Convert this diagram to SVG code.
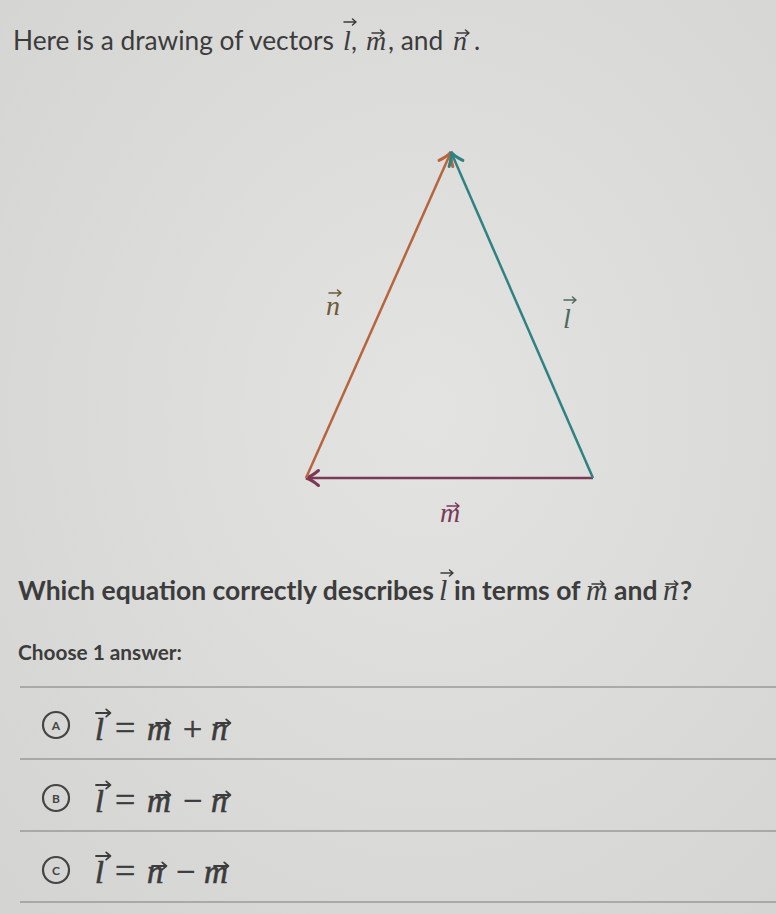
<svg xmlns="http://www.w3.org/2000/svg" xmlns:xlink="http://www.w3.org/1999/xlink" width="776" height="914" viewBox="0 0 776 914">
<defs>
<radialGradient id="bg" cx="0.55" cy="0.45" r="0.8">
<stop offset="0" stop-color="#e3e3e2"/>
<stop offset="1" stop-color="#d3d3d2"/>
</radialGradient>
<path id="vec" d="M0,0 H12 M8.5,-3 L12,0 L8.5,3" fill="none" stroke-width="1.5" stroke-linecap="round" stroke-linejoin="round"/>
<marker id="ahN" markerWidth="20" markerHeight="20" refX="0" refY="0" viewBox="-12 -8 14 16" orient="auto" markerUnits="userSpaceOnUse">
<path d="M-10,-6 Q-4,-1 0,0 Q-4,1 -10,6" fill="none" stroke="#b7653d" stroke-width="2.4" stroke-linecap="round"/>
</marker>
<marker id="ahL" markerWidth="20" markerHeight="20" refX="0" refY="0" viewBox="-12 -8 14 16" orient="auto" markerUnits="userSpaceOnUse">
<path d="M-10,-6 Q-4,-1 0,0 Q-4,1 -10,6" fill="none" stroke="#2f8282" stroke-width="2.4" stroke-linecap="round"/>
</marker>
<marker id="ahM" markerWidth="20" markerHeight="20" refX="0" refY="0" viewBox="-12 -8 14 16" orient="auto" markerUnits="userSpaceOnUse">
<path d="M-10,-6 Q-4,-1 0,0 Q-4,1 -10,6" fill="none" stroke="#7c3956" stroke-width="2.4" stroke-linecap="round"/>
</marker>
</defs>
<style>
.txt{font-family:Lato,"Liberation Sans",sans-serif;fill:#3c3c3c}
.q{font-weight:bold}
.mi{font-family:"Liberation Serif","Times New Roman",serif;font-style:italic;fill:#3c3c3c}
.mo{font-family:"Liberation Serif","Times New Roman",serif;fill:#3c3c3c}
.hv{stroke:#3c3c3c;stroke-width:0.6}
.sep{stroke:#9a9a9a;stroke-width:1.5}
.opt{fill:none;stroke:#444;stroke-width:2.2}
.optl{font-family:Lato,"Liberation Sans",sans-serif;font-weight:bold;font-size:12px;fill:#444;text-anchor:middle}
.vk{stroke:#3c3c3c}
</style>
<rect width="776" height="914" fill="url(#bg)"/>

<g id="title">
<text class="txt" x="13" y="50" font-size="26.3">Here is a drawing of vectors</text>
<text class="mi" x="343" y="50" font-size="28">l</text>
<text class="txt" x="351" y="50" font-size="26.3">,</text>
<text class="mi" x="366" y="50" font-size="28">m</text>
<text class="txt" x="388" y="50" font-size="26.3">, and</text>
<text class="mi" x="453" y="50" font-size="28">n</text>
<text class="txt" x="474" y="50" font-size="26.3">.</text>
<use href="#vec" transform="translate(344,22)" class="vk"/>
<use href="#vec" transform="translate(372,33)" class="vk"/>
<use href="#vec" transform="translate(457,33)" class="vk"/>
</g>

<g id="connectors">
<line id="vec-m" x1="593" y1="478" x2="306" y2="478" stroke="#7c3956" stroke-width="2.5" marker-end="url(#ahM)"/>
<line id="vec-n" x1="306" y1="478" x2="451" y2="152" stroke="#b7653d" stroke-width="2.5" marker-end="url(#ahN)"/>
<line id="vec-l" x1="593" y1="478" x2="451" y2="152" stroke="#2f8282" stroke-width="2.5" marker-end="url(#ahL)"/>
</g>

<g id="label-n">
<text x="333" y="315" font-size="28" class="mi" style="fill:#6e5a38" text-anchor="middle">n</text>
<use href="#vec" transform="translate(329,293)" stroke="#6e5a38"/>
</g>
<g id="label-l">
<text x="567" y="328" font-size="28" class="mi" style="fill:#4e6a5c" text-anchor="middle">l</text>
<use href="#vec" transform="translate(564,300)" stroke="#4e6a5c"/>
</g>
<g id="label-m">
<text x="450" y="522" font-size="28" class="mi" style="fill:#7a3a5a" text-anchor="middle">m</text>
<use href="#vec" transform="translate(447,506)" stroke="#7a3a5a"/>
</g>

<g id="question">
<text class="txt q" x="18" y="600" font-size="26.5">Which equation correctly describes</text>
<text class="mi" x="439" y="600" font-size="30">l</text>
<text class="txt q" x="454" y="600" font-size="26.5">in terms of</text>
<text class="mi" x="586" y="600" font-size="30">m</text>
<text class="txt q" x="614" y="600" font-size="26.5">and</text>
<text class="mi" x="663" y="600" font-size="30">n</text>
<text class="txt q" x="680" y="600" font-size="26.5">?</text>
<use href="#vec" transform="translate(441,573)" class="vk"/>
<use href="#vec" transform="translate(592,584)" class="vk"/>
<use href="#vec" transform="translate(666,584)" class="vk"/>
</g>

<g id="choose">
<text class="txt q" x="18" y="660" font-size="20.8">Choose 1 answer:</text>
</g>

<g id="separators">
<line class="sep" x1="20" y1="687" x2="776" y2="687"/>
<line class="sep" x1="20" y1="759" x2="776" y2="759"/>
<line class="sep" x1="20" y1="831" x2="776" y2="831"/>
<line class="sep" x1="20" y1="902" x2="776" y2="902"/>
</g>

<g id="option-a">
<circle class="opt" cx="56" cy="725" r="13"/>
<text class="optl" x="56" y="729.5">A</text>
<text class="mi hv" x="95" y="740" font-size="32">l</text>
<text class="mo hv" x="115" y="740" font-size="36">=</text>
<text class="mi hv" x="147" y="740" font-size="33">m</text>
<text class="mo hv" x="183" y="740" font-size="34">+</text>
<text class="mi hv" x="211" y="740" font-size="33">n</text>
<use href="#vec" transform="translate(96,713) scale(1.2)" class="vk"/>
<use href="#vec" transform="translate(156,723) scale(1.2)" class="vk"/>
<use href="#vec" transform="translate(216,723) scale(1.2)" class="vk"/>
</g>

<g id="option-b">
<circle class="opt" cx="56" cy="798" r="13"/>
<text class="optl" x="56" y="802.5">B</text>
<text class="mi hv" x="95" y="812" font-size="32">l</text>
<text class="mo hv" x="115" y="812" font-size="36">=</text>
<text class="mi hv" x="147" y="812" font-size="33">m</text>
<text class="mo hv" x="183" y="812" font-size="34">−</text>
<text class="mi hv" x="211" y="812" font-size="33">n</text>
<use href="#vec" transform="translate(96,785) scale(1.2)" class="vk"/>
<use href="#vec" transform="translate(156,795) scale(1.2)" class="vk"/>
<use href="#vec" transform="translate(216,795) scale(1.2)" class="vk"/>
</g>

<g id="option-c">
<circle class="opt" cx="56" cy="870" r="13"/>
<text class="optl" x="56" y="874.5">C</text>
<text class="mi hv" x="95" y="883" font-size="32">l</text>
<text class="mo hv" x="115" y="883" font-size="36">=</text>
<text class="mi hv" x="147" y="883" font-size="33">n</text>
<text class="mo hv" x="176" y="883" font-size="34">−</text>
<text class="mi hv" x="204" y="883" font-size="33">m</text>
<use href="#vec" transform="translate(96,856) scale(1.2)" class="vk"/>
<use href="#vec" transform="translate(152,866) scale(1.2)" class="vk"/>
<use href="#vec" transform="translate(214,866) scale(1.2)" class="vk"/>
</g>
</svg>
